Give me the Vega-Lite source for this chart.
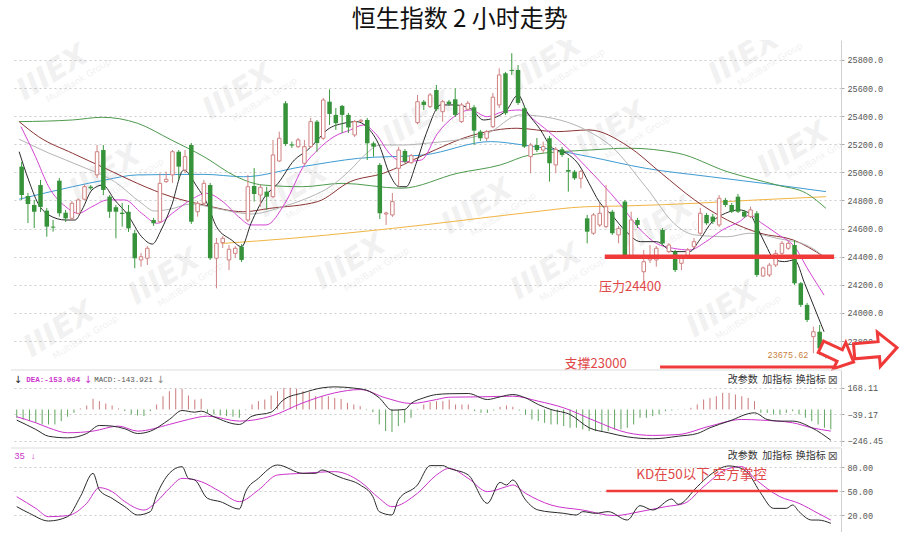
{
"$schema":"https://vega.github.io/schema/vega-lite/v6.json",
"padding":{"left":10,"top":8,"right":0,"bottom":0},
"background":"white",
"bounds":"flush",
"title":{"text":"恒生指数 2 小时走势","fontSize":24,"font":"Noto Sans CJK SC","fontWeight":"normal","color":"#111","anchor":"middle","offset":8,"dx":3},
"config":{"view":{"stroke":null},"axis":{"labelFont":"Liberation Mono","labelFontSize":8.5,"labelColor":"#555","tickColor":"#aaa","tickSize":3,"domainColor":"#d0d0d0","gridColor":"#cccccc","gridDash":[2,3],"labelPadding":3,"labelOverlap":false}},
"spacing":2,
"datasets":{
"k":[
{"i":0,"o":25041,"h":25074,"l":24804,"c":24839},{"i":1,"o":24832,"h":24853,"l":24640,"c":24775},{"i":2,"o":24768,"h":24804,"l":24604,"c":24720},{"i":3,"o":24910,"h":24946,"l":24718,"c":24754},{"i":4,"o":24728,"h":24747,"l":24542,"c":24614},{"i":5,"o":24614,"h":24661,"l":24578,"c":24607},{"i":6,"o":24941,"h":24960,"l":24685,"c":24709},{"i":7,"o":24713,"h":24733,"l":24647,"c":24673},{"i":8,"o":24673,"h":24796,"l":24661,"c":24780},{"i":9,"o":24709,"h":24815,"l":24700,"c":24804},
{"i":10,"o":24809,"h":24913,"l":24800,"c":24898},{"i":11,"o":24898,"h":24910,"l":24875,"c":24887},{"i":12,"o":24982,"h":25195,"l":24960,"c":25147},{"i":13,"o":25159,"h":25195,"l":24839,"c":24875},{"i":14,"o":24827,"h":24839,"l":24676,"c":24720},{"i":15,"o":24752,"h":24768,"l":24531,"c":24720},{"i":16,"o":24713,"h":24782,"l":24614,"c":24704},{"i":17,"o":24720,"h":24768,"l":24576,"c":24602},{"i":18,"o":24567,"h":24590,"l":24318,"c":24389},{"i":19,"o":24377,"h":24426,"l":24329,"c":24400},
{"i":20,"o":24389,"h":24476,"l":24341,"c":24460},{"i":21,"o":24661,"h":24676,"l":24619,"c":24638},{"i":22,"o":24649,"h":24994,"l":24640,"c":24922},{"i":23,"o":24934,"h":25005,"l":24925,"c":24951},{"i":24,"o":24982,"h":25159,"l":24925,"c":25147},{"i":25,"o":25147,"h":25159,"l":24946,"c":25041},{"i":26,"o":25017,"h":25159,"l":24996,"c":25112},{"i":27,"o":25195,"h":25209,"l":24633,"c":24649},{"i":28,"o":24720,"h":24796,"l":24685,"c":24780},{"i":29,"o":24780,"h":24946,"l":24768,"c":24922},
{"i":30,"o":24910,"h":24925,"l":24377,"c":24389},{"i":31,"o":24389,"h":24533,"l":24175,"c":24495},{"i":32,"o":24500,"h":24547,"l":24462,"c":24531},{"i":33,"o":24377,"h":24483,"l":24305,"c":24453},{"i":34,"o":24424,"h":24476,"l":24391,"c":24460},{"i":35,"o":24471,"h":24490,"l":24362,"c":24377},{"i":36,"o":24661,"h":24982,"l":24647,"c":24898},{"i":37,"o":24903,"h":25031,"l":24792,"c":24846},{"i":38,"o":24839,"h":24910,"l":24756,"c":24894},{"i":39,"o":24863,"h":24898,"l":24733,"c":24827},
{"i":40,"o":24827,"h":25231,"l":24818,"c":25124},{"i":41,"o":25081,"h":25290,"l":25074,"c":25243},{"i":42,"o":25492,"h":25508,"l":25188,"c":25202},{"i":43,"o":25199,"h":25219,"l":25174,"c":25191},{"i":44,"o":25183,"h":25245,"l":25174,"c":25231},{"i":45,"o":25065,"h":25231,"l":25053,"c":25183},{"i":46,"o":25183,"h":25387,"l":25174,"c":25361},{"i":47,"o":25361,"h":25373,"l":25147,"c":25209},{"i":48,"o":25243,"h":25530,"l":25231,"c":25515},{"i":49,"o":25503,"h":25591,"l":25337,"c":25416},
{"i":50,"o":25409,"h":25458,"l":25302,"c":25350},{"i":51,"o":25473,"h":25480,"l":25280,"c":25409},{"i":52,"o":25409,"h":25423,"l":25280,"c":25320},{"i":53,"o":25266,"h":25373,"l":25252,"c":25361},{"i":54,"o":25364,"h":25380,"l":25358,"c":25371},{"i":55,"o":25373,"h":25387,"l":25088,"c":25207},{"i":56,"o":25207,"h":25219,"l":25112,"c":25183},{"i":57,"o":25053,"h":25067,"l":24668,"c":24709},{"i":58,"o":24704,"h":24720,"l":24626,"c":24711},{"i":59,"o":24697,"h":24853,"l":24683,"c":24792},
{"i":60,"o":25029,"h":25183,"l":24898,"c":25159},{"i":61,"o":25152,"h":25166,"l":25067,"c":25076},{"i":62,"o":25069,"h":25131,"l":25060,"c":25119},{"i":63,"o":25354,"h":25551,"l":25344,"c":25503},{"i":64,"o":25503,"h":25515,"l":25444,"c":25480},{"i":65,"o":25468,"h":25565,"l":25458,"c":25551},{"i":66,"o":25586,"h":25622,"l":25437,"c":25449},{"i":67,"o":25432,"h":25515,"l":25361,"c":25503},{"i":68,"o":25503,"h":25515,"l":25473,"c":25487},{"i":69,"o":25520,"h":25598,"l":25394,"c":25409},
{"i":70,"o":25361,"h":25494,"l":25352,"c":25480},{"i":71,"o":25449,"h":25508,"l":25437,"c":25492},{"i":72,"o":25463,"h":25480,"l":25195,"c":25297},{"i":73,"o":25290,"h":25302,"l":25223,"c":25243},{"i":74,"o":25243,"h":25302,"l":25223,"c":25290},{"i":75,"o":25325,"h":25565,"l":25316,"c":25535},{"i":76,"o":25480,"h":25741,"l":25458,"c":25693},{"i":77,"o":25705,"h":25715,"l":25409,"c":25421},{"i":78,"o":25729,"h":25848,"l":25693,"c":25722},{"i":79,"o":25729,"h":25764,"l":25480,"c":25494},
{"i":80,"o":25456,"h":25473,"l":25174,"c":25183},{"i":81,"o":25112,"h":25209,"l":24994,"c":25195},{"i":82,"o":25195,"h":25245,"l":25145,"c":25159},{"i":83,"o":25159,"h":25219,"l":25136,"c":25183},{"i":84,"o":25243,"h":25259,"l":24934,"c":25065},{"i":85,"o":25053,"h":25181,"l":24994,"c":25164},{"i":86,"o":25164,"h":25181,"l":25110,"c":25124},{"i":87,"o":25017,"h":25102,"l":24863,"c":25005},{"i":88,"o":25005,"h":25017,"l":24946,"c":24958},{"i":89,"o":24958,"h":25017,"l":24887,"c":25005},
{"i":90,"o":24673,"h":24697,"l":24495,"c":24578},{"i":91,"o":24567,"h":24711,"l":24555,"c":24697},{"i":92,"o":24626,"h":24782,"l":24612,"c":24709},{"i":93,"o":24614,"h":24910,"l":24604,"c":24756},{"i":94,"o":24720,"h":24733,"l":24555,"c":24567},{"i":95,"o":24555,"h":24619,"l":24495,"c":24602},{"i":96,"o":24792,"h":24804,"l":24391,"c":24400},{"i":97,"o":24400,"h":24720,"l":24391,"c":24661},{"i":98,"o":24661,"h":24676,"l":24604,"c":24626},{"i":99,"o":24293,"h":24448,"l":24222,"c":24364},
{"i":100,"o":24377,"h":24483,"l":24355,"c":24389},{"i":101,"o":24377,"h":24476,"l":24329,"c":24460},{"i":102,"o":24590,"h":24604,"l":24483,"c":24495},{"i":103,"o":24436,"h":24497,"l":24426,"c":24483},{"i":104,"o":24436,"h":24448,"l":24291,"c":24305},{"i":105,"o":24353,"h":24405,"l":24305,"c":24389},{"i":106,"o":24400,"h":24462,"l":24384,"c":24448},{"i":107,"o":24471,"h":24533,"l":24462,"c":24507},{"i":108,"o":24567,"h":24747,"l":24555,"c":24709},{"i":109,"o":24697,"h":24711,"l":24626,"c":24638},
{"i":110,"o":24685,"h":24704,"l":24633,"c":24649},{"i":111,"o":24626,"h":24839,"l":24612,"c":24816},{"i":112,"o":24804,"h":24818,"l":24754,"c":24768},{"i":113,"o":24768,"h":24782,"l":24711,"c":24720},{"i":114,"o":24827,"h":24846,"l":24711,"c":24720},{"i":115,"o":24720,"h":24733,"l":24676,"c":24685},{"i":116,"o":24685,"h":24756,"l":24676,"c":24733},{"i":117,"o":24709,"h":24725,"l":24256,"c":24270},{"i":118,"o":24263,"h":24330,"l":24256,"c":24320},{"i":119,"o":24270,"h":24355,"l":24256,"c":24340},
{"i":120,"o":24341,"h":24448,"l":24327,"c":24424},{"i":121,"o":24424,"h":24512,"l":24412,"c":24495},{"i":122,"o":24460,"h":24512,"l":24448,"c":24495},{"i":123,"o":24483,"h":24519,"l":24199,"c":24211},{"i":124,"o":24211,"h":24220,"l":24042,"c":24057},{"i":125,"o":24057,"h":24071,"l":23935,"c":23950},{"i":126,"o":23831,"h":23902,"l":23713,"c":23866},{"i":127,"o":23866,"h":23914,"l":23700,"c":23748},{"i":128,"o":23748,"h":23764,"l":23676,"c":23688}
],
"wm":[
{"i":4.9,"v":25707},{"i":34.5,"v":25572},{"i":63.1,"v":25373},{"i":93.9,"v":25302},{"i":122.8,"v":25159},
{"i":13.3,"v":24996},{"i":43.1,"v":24875},{"i":72.5,"v":24754},{"i":101.3,"v":24626},
{"i":22.7,"v":24255},{"i":52.3,"v":24362},{"i":83.5,"v":24291},{"i":111.5,"v":24021},
{"i":83.5,"v":25778},{"i":115,"v":25821},{"i":6,"v":23880}
],
"ma":[
{"s":"o","i":31.8,"v":24494},{"s":"o","i":43,"v":24531},{"s":"o","i":54,"v":24578},{"s":"o","i":64,"v":24626},{"s":"o","i":75,"v":24685},{"s":"o","i":80,"v":24711},{"s":"o","i":90,"v":24756},{"s":"o","i":96,"v":24761},{"s":"o","i":108,"v":24782},{"s":"o","i":117,"v":24804},{"s":"o","i":128,"v":24827},
{"s":"u","i":-0.4,"v":24809},{"s":"u","i":8.1,"v":24898},{"s":"u","i":13.3,"v":24946},{"s":"u","i":18.4,"v":24982},{"s":"u","i":29,"v":24986},{"s":"u","i":35.3,"v":24969},{"s":"u","i":44.7,"v":25041},{"s":"u","i":53.6,"v":25100},{"s":"u","i":64,"v":25124},{"s":"u","i":74.6,"v":25219},{"s":"u","i":79.8,"v":25195},{"s":"u","i":90.3,"v":25112},{"s":"u","i":99.3,"v":25029},{"s":"u","i":109.6,"v":24969},{"s":"u","i":120.2,"v":24910},{"s":"u","i":128,"v":24863},
{"s":"n","i":-0.4,"v":25361},{"s":"n","i":8.1,"v":25373},{"s":"n","i":12.8,"v":25392},{"s":"n","i":18.4,"v":25350},{"s":"n","i":23.8,"v":25231},{"s":"n","i":29,"v":25112},{"s":"n","i":34.2,"v":24969},{"s":"n","i":38.4,"v":24910},{"s":"n","i":44.7,"v":24898},{"s":"n","i":51,"v":24922},{"s":"n","i":60.4,"v":24887},{"s":"n","i":69.4,"v":24994},{"s":"n","i":76.2,"v":25053},{"s":"n","i":80.9,"v":25124},{"s":"n","i":90.3,"v":25159},{"s":"n","i":96.6,"v":25172},{"s":"n","i":104.5,"v":25136},{"s":"n","i":112.3,"v":25005},{"s":"n","i":120.2,"v":24910},{"s":"n","i":124.9,"v":24851},{"s":"n","i":128,"v":24744},
{"s":"b","i":-0.4,"v":25361},{"s":"b","i":2.7,"v":25254},{"s":"b","i":8.1,"v":25136},{"s":"b","i":13.3,"v":25029},{"s":"b","i":18.4,"v":24922},{"s":"b","i":23.8,"v":24827},{"s":"b","i":29,"v":24768},{"s":"b","i":35.3,"v":24720},{"s":"b","i":39.5,"v":24744},{"s":"b","i":47.1,"v":24792},{"s":"b","i":52.3,"v":24934},{"s":"b","i":57.6,"v":24994},{"s":"b","i":64,"v":25124},{"s":"b","i":71.9,"v":25266},{"s":"b","i":78.8,"v":25314},{"s":"b","i":85.1,"v":25290},{"s":"b","i":90.3,"v":25302},{"s":"b","i":96.6,"v":25183},{"s":"b","i":101.8,"v":24994},{"s":"b","i":107.1,"v":24804},{"s":"b","i":112.3,"v":24661},{"s":"b","i":117.5,"v":24567},{"s":"b","i":122.8,"v":24519},{"s":"b","i":127.7,"v":24400},
{"s":"g","i":-0.4,"v":25236},{"s":"g","i":4.3,"v":25138},{"s":"g","i":9.6,"v":25041},{"s":"g","i":14.8,"v":24934},{"s":"g","i":19.1,"v":24780},{"s":"g","i":21.1,"v":24725},{"s":"g","i":23.8,"v":24740},{"s":"g","i":26.9,"v":24775},{"s":"g","i":31.3,"v":24740},{"s":"g","i":36.5,"v":24704},{"s":"g","i":41.9,"v":24761},{"s":"g","i":46,"v":24827},{"s":"g","i":49.1,"v":24898},{"s":"g","i":52.3,"v":25017},{"s":"g","i":54.9,"v":25136},{"s":"g","i":57,"v":25195},{"s":"g","i":60.7,"v":25195},{"s":"g","i":64.4,"v":25207},{"s":"g","i":74.1,"v":25278},{"s":"g","i":79.3,"v":25409},{"s":"g","i":84.5,"v":25385},{"s":"g","i":89.8,"v":25302},{"s":"g","i":93.9,"v":25183},{"s":"g","i":99.3,"v":24898},{"s":"g","i":104.4,"v":24614},{"s":"g","i":107.1,"v":24555},{"s":"g","i":112.3,"v":24542},{"s":"g","i":115.9,"v":24567},{"s":"g","i":120.2,"v":24531},{"s":"g","i":125.4,"v":24471},{"s":"g","i":127.7,"v":24400},
{"s":"m","i":-0.1,"v":25325},{"s":"m","i":2.2,"v":25112},{"s":"m","i":4.3,"v":24898},{"s":"m","i":7,"v":24756},{"s":"m","i":9,"v":24709},{"s":"m","i":11.2,"v":24756},{"s":"m","i":13.7,"v":24804},{"s":"m","i":16.4,"v":24804},{"s":"m","i":19.1,"v":24709},{"s":"m","i":21.6,"v":24638},{"s":"m","i":24.3,"v":24720},{"s":"m","i":26.9,"v":24804},{"s":"m","i":29.4,"v":24851},{"s":"m","i":32.1,"v":24789},{"s":"m","i":34.5,"v":24685},{"s":"m","i":36.5,"v":24626},{"s":"m","i":38.9,"v":24626},{"s":"m","i":41.9,"v":24780},{"s":"m","i":45,"v":25053},{"s":"m","i":47.1,"v":25159},{"s":"m","i":49.7,"v":25254},{"s":"m","i":52.3,"v":25302},{"s":"m","i":54.4,"v":25337},{"s":"m","i":56.5,"v":25266},{"s":"m","i":58.5,"v":25136},{"s":"m","i":60.7,"v":25076},{"s":"m","i":63.6,"v":25088},{"s":"m","i":66.2,"v":25278},{"s":"m","i":68.8,"v":25396},{"s":"m","i":71.4,"v":25444},{"s":"m","i":74.1,"v":25396},{"s":"m","i":76.6,"v":25432},{"s":"m","i":79.3,"v":25444},{"s":"m","i":81.9,"v":25361},{"s":"m","i":84.5,"v":25266},{"s":"m","i":87.2,"v":25159},{"s":"m","i":89.8,"v":25041},{"s":"m","i":92.3,"v":24922},{"s":"m","i":95.3,"v":24770},{"s":"m","i":98.5,"v":24590},{"s":"m","i":101,"v":24495},{"s":"m","i":103.7,"v":24460},{"s":"m","i":106.3,"v":24448},{"s":"m","i":108.9,"v":24507},{"s":"m","i":111.5,"v":24590},{"s":"m","i":114.2,"v":24649},{"s":"m","i":115.9,"v":24697},{"s":"m","i":117.8,"v":24638},{"s":"m","i":120.5,"v":24555},{"s":"m","i":123,"v":24471},{"s":"m","i":125.2,"v":24305},{"s":"m","i":127.7,"v":24127},
{"s":"k","i":-0.4,"v":25147},{"s":"k","i":1.1,"v":24946},{"s":"k","i":2.6,"v":24780},{"s":"k","i":4.3,"v":24697},{"s":"k","i":7,"v":24661},{"s":"k","i":8.5,"v":24661},{"s":"k","i":9.6,"v":24733},{"s":"k","i":11.2,"v":24875},{"s":"k","i":12.9,"v":24910},{"s":"k","i":14.8,"v":24804},{"s":"k","i":16.9,"v":24697},{"s":"k","i":19.1,"v":24542},{"s":"k","i":20.8,"v":24490},{"s":"k","i":22.2,"v":24590},{"s":"k","i":23.8,"v":24756},{"s":"k","i":25.8,"v":25017},{"s":"k","i":27.9,"v":24898},{"s":"k","i":29.5,"v":24780},{"s":"k","i":31,"v":24614},{"s":"k","i":33.4,"v":24519},{"s":"k","i":35,"v":24471},{"s":"k","i":36.5,"v":24638},{"s":"k","i":38.7,"v":24827},{"s":"k","i":40.8,"v":24922},{"s":"k","i":43.4,"v":25088},{"s":"k","i":45.5,"v":25159},{"s":"k","i":47.1,"v":25231},{"s":"k","i":48.6,"v":25302},{"s":"k","i":51.3,"v":25350},{"s":"k","i":53.3,"v":25361},{"s":"k","i":54.9,"v":25325},{"s":"k","i":57,"v":25183},{"s":"k","i":58.5,"v":24994},{"s":"k","i":60.1,"v":24898},{"s":"k","i":61.2,"v":24898},{"s":"k","i":62.8,"v":25065},{"s":"k","i":64.4,"v":25278},{"s":"k","i":66.7,"v":25480},{"s":"k","i":68.8,"v":25480},{"s":"k","i":71.4,"v":25456},{"s":"k","i":73.5,"v":25373},{"s":"k","i":75,"v":25385},{"s":"k","i":77.2,"v":25444},{"s":"k","i":79,"v":25551},{"s":"k","i":80.4,"v":25432},{"s":"k","i":82.4,"v":25314},{"s":"k","i":84.5,"v":25172},{"s":"k","i":86.7,"v":25136},{"s":"k","i":88.7,"v":25053},{"s":"k","i":90.3,"v":24922},{"s":"k","i":91.9,"v":24792},{"s":"k","i":93.9,"v":24697},{"s":"k","i":96.1,"v":24583},{"s":"k","i":98.5,"v":24507},{"s":"k","i":101,"v":24507},{"s":"k","i":103.7,"v":24436},{"s":"k","i":106.3,"v":24436},{"s":"k","i":107.9,"v":24519},{"s":"k","i":109.9,"v":24649},{"s":"k","i":112,"v":24709},{"s":"k","i":114.2,"v":24733},{"s":"k","i":115.8,"v":24709},{"s":"k","i":117,"v":24614},{"s":"k","i":118.3,"v":24495},{"s":"k","i":119.9,"v":24377},{"s":"k","i":121.4,"v":24365},{"s":"k","i":123,"v":24377},{"s":"k","i":124.6,"v":24211},{"s":"k","i":126.1,"v":24044},{"s":"k","i":127.7,"v":23866}
],
"mh":[
{"i":0,"v":-65},{"i":1,"v":-78},{"i":2,"v":-91},{"i":3,"v":-104},{"i":4,"v":-117},{"i":5,"v":-117},{"i":6,"v":-117},{"i":7,"v":-91},{"i":8,"v":-57},{"i":9,"v":-26},{"i":10,"v":8},{"i":11,"v":31},{"i":12,"v":83},{"i":13,"v":65},{"i":14,"v":47},{"i":15,"v":31},{"i":16,"v":8},{"i":17,"v":-13},{"i":18,"v":-39},{"i":19,"v":-47},{"i":20,"v":-52},{"i":21,"v":-13},{"i":22,"v":39},{"i":23,"v":104},{"i":24,"v":143},{"i":25,"v":162},{"i":26,"v":162},{"i":27,"v":109},{"i":28,"v":78},{"i":29,"v":83},{"i":30,"v":-26},{"i":31,"v":-39},{"i":32,"v":-47},{"i":33,"v":-52},{"i":34,"v":-57},{"i":35,"v":-65},{"i":36,"v":-5},{"i":37,"v":39},{"i":38,"v":65},{"i":39,"v":78},{"i":40,"v":109},{"i":41,"v":143},{"i":42,"v":169},{"i":43,"v":169},{"i":44,"v":162},{"i":45,"v":143},{"i":46,"v":136},{"i":47,"v":104},{"i":48,"v":104},{"i":49,"v":104},{"i":50,"v":91},{"i":51,"v":83},{"i":52,"v":52},{"i":53,"v":39},{"i":54,"v":26},{"i":55,"v":-5},{"i":56,"v":-21},{"i":57,"v":-117},{"i":58,"v":-169},{"i":59,"v":-177},{"i":60,"v":-130},{"i":61,"v":-104},{"i":62,"v":-65},{"i":63,"v":5},{"i":64,"v":39},{"i":65,"v":57},{"i":66,"v":65},{"i":67,"v":65},{"i":68,"v":78},{"i":69,"v":39},{"i":70,"v":39},{"i":71,"v":39},{"i":72,"v":-13},{"i":73,"v":-26},{"i":74,"v":-26},{"i":75,"v":-8},{"i":76,"v":21},{"i":77,"v":31},{"i":78,"v":21},{"i":79,"v":-8},{"i":80,"v":-39},{"i":81,"v":-78},{"i":82,"v":-91},{"i":83,"v":-104},{"i":84,"v":-117},{"i":85,"v":-117},{"i":86,"v":-130},{"i":87,"v":-143},{"i":88,"v":-143},{"i":89,"v":-156},{"i":90,"v":-169},{"i":91,"v":-169},{"i":92,"v":-169},{"i":93,"v":-169},{"i":94,"v":-156},{"i":95,"v":-156},{"i":96,"v":-143},{"i":97,"v":-117},{"i":98,"v":-65},{"i":99,"v":-65},{"i":100,"v":-52},{"i":101,"v":-39},{"i":102,"v":-13},{"i":103,"v":-8},{"i":104,"v":-3},{"i":105,"v":3},{"i":106,"v":13},{"i":107,"v":39},{"i":108,"v":78},{"i":109,"v":91},{"i":110,"v":104},{"i":111,"v":130},{"i":112,"v":130},{"i":113,"v":117},{"i":114,"v":104},{"i":115,"v":91},{"i":116,"v":65},{"i":117,"v":-26},{"i":118,"v":-26},{"i":119,"v":-39},{"i":120,"v":-39},{"i":121,"v":-26},{"i":122,"v":-13},{"i":123,"v":-39},{"i":124,"v":-65},{"i":125,"v":-91},{"i":126,"v":-117},{"i":127,"v":-143},{"i":128,"v":-156}
],
"ml":[
{"s":"dif","i":0,"v":-83},{"s":"dif","i":3,"v":-156},{"s":"dif","i":5,"v":-209},{"s":"dif","i":8,"v":-222},{"s":"dif","i":11,"v":-188},{"s":"dif","i":13,"v":-125},{"s":"dif","i":15,"v":-130},{"s":"dif","i":17,"v":-151},{"s":"dif","i":19,"v":-188},{"s":"dif","i":21,"v":-170},{"s":"dif","i":24,"v":-78},{"s":"dif","i":26,"v":-8},{"s":"dif","i":28,"v":-21},{"s":"dif","i":29,"v":-13},{"s":"dif","i":31,"v":-57},{"s":"dif","i":35,"v":-117},{"s":"dif","i":37,"v":-52},{"s":"dif","i":40,"v":-21},{"s":"dif","i":42,"v":78},{"s":"dif","i":45,"v":130},{"s":"dif","i":48,"v":169},{"s":"dif","i":50,"v":177},{"s":"dif","i":53,"v":167},{"s":"dif","i":55,"v":151},{"s":"dif","i":57,"v":91},{"s":"dif","i":59,"v":-5},{"s":"dif","i":61,"v":0},{"s":"dif","i":62,"v":47},{"s":"dif","i":64,"v":91},{"s":"dif","i":66,"v":117},{"s":"dif","i":68,"v":123},{"s":"dif","i":71,"v":125},{"s":"dif","i":74,"v":78},{"s":"dif","i":76,"v":99},{"s":"dif","i":78,"v":117},{"s":"dif","i":80,"v":91},{"s":"dif","i":82,"v":39},{"s":"dif","i":84,"v":0},{"s":"dif","i":87,"v":-39},{"s":"dif","i":90,"v":-143},{"s":"dif","i":93,"v":-182},{"s":"dif","i":96,"v":-214},{"s":"dif","i":100,"v":-229},{"s":"dif","i":104,"v":-209},{"s":"dif","i":107,"v":-188},{"s":"dif","i":109,"v":-143},{"s":"dif","i":112,"v":-91},{"s":"dif","i":116,"v":-26},{"s":"dif","i":118,"v":-78},{"s":"dif","i":120,"v":-91},{"s":"dif","i":122,"v":-91},{"s":"dif","i":125,"v":-143},{"s":"dif","i":128,"v":-240},
{"s":"dea","i":0,"v":-57},{"s":"dea","i":3,"v":-104},{"s":"dea","i":5,"v":-143},{"s":"dea","i":8,"v":-182},{"s":"dea","i":12,"v":-169},{"s":"dea","i":16,"v":-130},{"s":"dea","i":19,"v":-169},{"s":"dea","i":24,"v":-117},{"s":"dea","i":27,"v":-78},{"s":"dea","i":30,"v":-52},{"s":"dea","i":35,"v":-91},{"s":"dea","i":40,"v":-52},{"s":"dea","i":45,"v":52},{"s":"dea","i":50,"v":130},{"s":"dea","i":54,"v":156},{"s":"dea","i":58,"v":91},{"s":"dea","i":62,"v":47},{"s":"dea","i":66,"v":78},{"s":"dea","i":68,"v":96},{"s":"dea","i":73,"v":99},{"s":"dea","i":78,"v":104},{"s":"dea","i":82,"v":65},{"s":"dea","i":86,"v":13},{"s":"dea","i":91,"v":-91},{"s":"dea","i":96,"v":-182},{"s":"dea","i":100,"v":-203},{"s":"dea","i":104,"v":-196},{"s":"dea","i":109,"v":-130},{"s":"dea","i":114,"v":-78},{"s":"dea","i":117,"v":-83},{"s":"dea","i":122,"v":-104},{"s":"dea","i":125,"v":-143},{"s":"dea","i":128,"v":-169}
],
"kd":[
{"s":"k","i":0,"v":30.4},{"s":"k","i":2,"v":22.1},{"s":"k","i":5,"v":12.5},{"s":"k","i":8,"v":17.9},{"s":"k","i":10,"v":42.9},{"s":"k","i":12,"v":72.1},{"s":"k","i":13,"v":51.2},{"s":"k","i":15,"v":40.8},{"s":"k","i":17,"v":30.4},{"s":"k","i":19,"v":20},{"s":"k","i":21,"v":24.2},{"s":"k","i":22,"v":45},{"s":"k","i":24,"v":72.1},{"s":"k","i":26,"v":80.4},{"s":"k","i":27,"v":65.8},{"s":"k","i":28,"v":63.8},{"s":"k","i":30,"v":40.8},{"s":"k","i":32,"v":36.7},{"s":"k","i":35,"v":27.5},{"s":"k","i":36,"v":49.2},{"s":"k","i":38,"v":65.8},{"s":"k","i":41,"v":82.5},{"s":"k","i":45,"v":72.1},{"s":"k","i":47,"v":72.1},{"s":"k","i":48,"v":76.3},{"s":"k","i":50,"v":70},{"s":"k","i":51,"v":66.7},{"s":"k","i":54,"v":57.5},{"s":"k","i":56,"v":42.9},{"s":"k","i":57,"v":24.2},{"s":"k","i":59,"v":20},{"s":"k","i":60,"v":38.8},{"s":"k","i":63,"v":57.5},{"s":"k","i":65,"v":81.7},{"s":"k","i":67,"v":81.7},{"s":"k","i":68,"v":78.3},{"s":"k","i":71,"v":70},{"s":"k","i":74,"v":34.6},{"s":"k","i":76,"v":60.8},{"s":"k","i":77,"v":57.5},{"s":"k","i":78,"v":63.8},{"s":"k","i":80,"v":38.8},{"s":"k","i":82,"v":26.2},{"s":"k","i":86,"v":22.1},{"s":"k","i":88,"v":20},{"s":"k","i":89,"v":24.2},{"s":"k","i":91,"v":22.1},{"s":"k","i":93,"v":24.2},{"s":"k","i":96,"v":13.7},{"s":"k","i":98,"v":31.7},{"s":"k","i":100,"v":26.2},{"s":"k","i":103,"v":40},{"s":"k","i":104,"v":33.3},{"s":"k","i":107,"v":55.4},{"s":"k","i":109,"v":70},{"s":"k","i":112,"v":81.3},{"s":"k","i":113,"v":80.4},{"s":"k","i":115,"v":72.1},{"s":"k","i":117,"v":47.1},{"s":"k","i":119,"v":28.3},{"s":"k","i":121,"v":28.3},{"s":"k","i":122,"v":32.5},{"s":"k","i":123,"v":24.2},{"s":"k","i":125,"v":13.7},{"s":"k","i":126,"v":13.7},{"s":"k","i":128,"v":9.6},
{"s":"d","i":0,"v":42.9},{"s":"d","i":3,"v":28.3},{"s":"d","i":5,"v":17.9},{"s":"d","i":8,"v":19.2},{"s":"d","i":11,"v":34.6},{"s":"d","i":13,"v":54.2},{"s":"d","i":15,"v":49.2},{"s":"d","i":17,"v":36.7},{"s":"d","i":20,"v":26.2},{"s":"d","i":22,"v":36.7},{"s":"d","i":24,"v":53.3},{"s":"d","i":26,"v":65.8},{"s":"d","i":29,"v":61.7},{"s":"d","i":32,"v":49.2},{"s":"d","i":35,"v":36.7},{"s":"d","i":38,"v":51.2},{"s":"d","i":41,"v":70},{"s":"d","i":45,"v":72.1},{"s":"d","i":50,"v":74.2},{"s":"d","i":54,"v":61.7},{"s":"d","i":57,"v":40.8},{"s":"d","i":59,"v":30.4},{"s":"d","i":63,"v":47.1},{"s":"d","i":66,"v":70},{"s":"d","i":68,"v":78.3},{"s":"d","i":71,"v":65.8},{"s":"d","i":74,"v":49.2},{"s":"d","i":77,"v":55.4},{"s":"d","i":78,"v":57.5},{"s":"d","i":80,"v":47.1},{"s":"d","i":84,"v":32.5},{"s":"d","i":89,"v":26.2},{"s":"d","i":94,"v":19.2},{"s":"d","i":98,"v":24.2},{"s":"d","i":102,"v":30.4},{"s":"d","i":105,"v":34.6},{"s":"d","i":108,"v":55.4},{"s":"d","i":112,"v":78.3},{"s":"d","i":114,"v":80.4},{"s":"d","i":116,"v":65.8},{"s":"d","i":120,"v":42.9},{"s":"d","i":123,"v":34.6},{"s":"d","i":126,"v":22.1},{"s":"d","i":128,"v":13.7}
]
},
"vconcat":[
{
"width":830,"height":328,
"encoding":{"x":{"field":"i","type":"quantitative","scale":{"domain":[-0.9,129.6],"nice":false,"zero":false},"axis":null}},
"layer":[
{"data":{"name":"wm"},"mark":{"type":"text","text":"IIIEX","font":"DejaVu Sans","fontWeight":"bold","fontStyle":"italic","fontSize":30,"angle":-32,"color":"#000","opacity":0.05,"align":"center","baseline":"middle","clip":true},
 "encoding":{"y":{"field":"v","type":"quantitative","title":null,"scale":{"domain":[23608,25942],"nice":false,"zero":false},"axis":{"orient":"right","values":[23800,24000,24200,24400,24600,24800,25000,25200,25400,25600,25800],"format":".1f","grid":true,"title":null,"labelOverlap":false}}}},
{"data":{"name":"wm"},"mark":{"type":"text","text":"MultiBank Group","font":"DejaVu Sans","fontSize":9,"angle":-32,"color":"#000","opacity":0.06,"align":"center","baseline":"middle","dx":18,"dy":20,"clip":true},
 "encoding":{"y":{"field":"v","type":"quantitative","title":null,"axis":{"orient":"right","values":[23800,24000,24200,24400,24600,24800,25000,25200,25400,25600,25800],"format":".1f","grid":true,"title":null,"labelOverlap":false}}}},
{"data":{"name":"ma"},"mark":{"type":"line","strokeWidth":1,"interpolate":"monotone"},
 "encoding":{"y":{"field":"v","type":"quantitative","title":null,"axis":{"orient":"right","values":[23800,24000,24200,24400,24600,24800,25000,25200,25400,25600,25800],"format":".1f","grid":true,"title":null,"labelOverlap":false}},
  "color":{"field":"s","type":"nominal","legend":null,"scale":{"domain":["o","u","n","b","g","m","k"],"range":["#f2b544","#3d9bd2","#4d9a4d","#8c3434","#b4b4b4","#d445d4","#2a2a2a"]}}}},
{"data":{"name":"k"},"transform":[{"filter":"datum.c < datum.o"}],"mark":{"type":"rule","color":"#3a9a3e","strokeWidth":1},
 "encoding":{"y":{"field":"l","type":"quantitative","title":null,"axis":{"orient":"right","values":[23800,24000,24200,24400,24600,24800,25000,25200,25400,25600,25800],"format":".1f","grid":true,"title":null,"labelOverlap":false}},"y2":{"field":"h"}}},
{"data":{"name":"k"},"transform":[{"filter":"datum.c >= datum.o"}],"mark":{"type":"rule","color":"#d08484","strokeWidth":1},
 "encoding":{"y":{"field":"l","type":"quantitative","title":null,"axis":{"orient":"right","values":[23800,24000,24200,24400,24600,24800,25000,25200,25400,25600,25800],"format":".1f","grid":true,"title":null,"labelOverlap":false}},"y2":{"field":"h"}}},
{"data":{"name":"k"},"transform":[{"filter":"datum.c < datum.o"}],"mark":{"type":"bar","color":"#36933a","size":4.5},
 "encoding":{"y":{"field":"o","type":"quantitative","title":null,"axis":{"orient":"right","values":[23800,24000,24200,24400,24600,24800,25000,25200,25400,25600,25800],"format":".1f","grid":true,"title":null,"labelOverlap":false}},"y2":{"field":"c"}}},
{"data":{"name":"k"},"transform":[{"filter":"datum.c >= datum.o"}],"mark":{"type":"bar","fill":"white","stroke":"#d08080","strokeWidth":1,"size":3.5},
 "encoding":{"y":{"field":"o","type":"quantitative","title":null,"axis":{"orient":"right","values":[23800,24000,24200,24400,24600,24800,25000,25200,25400,25600,25800],"format":".1f","grid":true,"title":null,"labelOverlap":false}},"y2":{"field":"c"}}},
{"data":{"values":[{"a":92.8,"b":129.3,"v":24400}]},"mark":{"type":"rule","color":"#f03a3a","strokeWidth":4.5},
 "encoding":{"x":{"field":"a","type":"quantitative"},"x2":{"field":"b"},"y":{"field":"v","type":"quantitative","title":null,"axis":{"orient":"right","values":[23800,24000,24200,24400,24600,24800,25000,25200,25400,25600,25800],"format":".1f","grid":true,"title":null,"labelOverlap":false}}}},
{"data":{"values":[{"a":101.6,"b":129.3,"v":23615}]},"mark":{"type":"rule","color":"#f03a3a","strokeWidth":3},
 "encoding":{"x":{"field":"a","type":"quantitative"},"x2":{"field":"b"},"y":{"field":"v","type":"quantitative","title":null,"axis":{"orient":"right","values":[23800,24000,24200,24400,24600,24800,25000,25200,25400,25600,25800],"format":".1f","grid":true,"title":null,"labelOverlap":false}}}},
{"data":{"values":[{"i":91.9,"v":24184,"t":"压力24400"},{"i":86.4,"v":23636,"t":"支撑23000"}]},"mark":{"type":"text","align":"left","baseline":"middle","font":"Noto Sans CJK SC","fontSize":13,"color":"#e04848"},
 "encoding":{"y":{"field":"v","type":"quantitative","title":null,"axis":{"orient":"right","values":[23800,24000,24200,24400,24600,24800,25000,25200,25400,25600,25800],"format":".1f","grid":true,"title":null,"labelOverlap":false}},"text":{"field":"t"}}},
{"data":{"values":[{"i":125.2,"v":23700,"t":"23675.62"}]},"mark":{"type":"text","align":"right","baseline":"middle","font":"Liberation Mono","fontSize":8.5,"color":"#c8823c"},
 "encoding":{"y":{"field":"v","type":"quantitative","title":null,"axis":{"orient":"right","values":[23800,24000,24200,24400,24600,24800,25000,25200,25400,25600,25800],"format":".1f","grid":true,"title":null,"labelOverlap":false}},"text":{"field":"t"}}},
{"data":{"values":[{"i":129.8,"v":23705}]},"mark":{"type":"point","shape":"M-1,-0.35L0.15,-0.35L0.15,-0.8L1,0L0.15,0.8L0.15,0.35L-1,0.35Z","filled":true,"fill":"white","stroke":"#f03a3a","strokeWidth":3,"size":1300,"angle":25,"opacity":1},
 "encoding":{"y":{"field":"v","type":"quantitative","title":null,"axis":{"orient":"right","values":[23800,24000,24200,24400,24600,24800,25000,25200,25400,25600,25800],"format":".1f","grid":true,"title":null,"labelOverlap":false}}}},
{"data":{"values":[{"i":135.9,"v":23740}]},"mark":{"type":"point","shape":"M-1,-0.35L0.15,-0.35L0.15,-0.8L1,0L0.15,0.8L0.15,0.35L-1,0.35Z","filled":true,"fill":"white","stroke":"#f03a3a","strokeWidth":3,"size":1850,"angle":-5,"opacity":1},
 "encoding":{"y":{"field":"v","type":"quantitative","title":null,"axis":{"orient":"right","values":[23800,24000,24200,24400,24600,24800,25000,25200,25400,25600,25800],"format":".1f","grid":true,"title":null,"labelOverlap":false}}}}
]
},
{
"width":830,"height":76,
"encoding":{"x":{"field":"i","type":"quantitative","scale":{"domain":[-0.9,129.6],"nice":false,"zero":false},"axis":null},
 "y":{"field":"v","type":"quantitative","title":null,"scale":{"domain":[-285.6,308.9],"nice":false,"zero":false},"axis":{"orient":"right","values":[168.11,-39.17,-246.45],"format":".2f","grid":true,"title":null,"labelOverlap":false}}},
"layer":[
{"data":{"values":[{"a":-0.9,"b":129.6,"v":308.9}]},"mark":{"type":"rule","color":"#dddddd","strokeWidth":1},
 "encoding":{"x":{"field":"a","type":"quantitative"},"x2":{"field":"b"}}},
{"data":{"name":"mh"},"mark":{"type":"rule","strokeWidth":1},
 "encoding":{"y2":{"datum":0},"color":{"condition":{"test":"datum.v > 0","value":"#cc7a7a"},"value":"#5fa55f"}}},
{"data":{"name":"ml"},"transform":[{"filter":"datum.s == 'dea'"}],"mark":{"type":"line","strokeWidth":1,"interpolate":"monotone","color":"#cc33cc"}},
{"data":{"name":"ml"},"transform":[{"filter":"datum.s == 'dif'"}],"mark":{"type":"line","strokeWidth":1,"interpolate":"monotone","color":"#2a2a2a"}},
{"data":{"values":[{"i":111.8,"v":230.7,"t":"改参数"},{"i":117.2,"v":230.7,"t":"加指标"},{"i":122.5,"v":230.7,"t":"换指标"}]},"mark":{"type":"text","align":"left","baseline":"middle","font":"Noto Sans CJK SC","fontSize":10,"color":"#333"},
 "encoding":{"text":{"field":"t"}}},
{"data":{"values":[{"i":128.3,"v":230.7,"t":"⊠"}]},"mark":{"type":"text","align":"center","baseline":"middle","font":"DejaVu Sans","fontSize":12,"color":"#666"},
 "encoding":{"text":{"field":"t"}}},
{"data":{"values":[{"i":1.5,"v":230.7,"t":"DEA:-153.064"}]},"mark":{"type":"text","align":"left","baseline":"middle","font":"Liberation Mono","fontSize":7.5,"fontWeight":"bold","color":"#cc33cc"},
 "encoding":{"text":{"field":"t"}}},
{"data":{"values":[{"i":12.2,"v":230.7,"t":"MACD:-143.921"}]},"mark":{"type":"text","align":"left","baseline":"middle","font":"Liberation Mono","fontSize":7.5,"color":"#555"},
 "encoding":{"text":{"field":"t"}}},
{"data":{"values":[{"i":0.2,"v":230.7,"t":"↓"}]},"mark":{"type":"text","align":"center","baseline":"middle","font":"DejaVu Sans","fontSize":10,"color":"#222"},
 "encoding":{"text":{"field":"t"}}},
{"data":{"values":[{"i":11.2,"v":230.7,"t":"↓"}]},"mark":{"type":"text","align":"center","baseline":"middle","font":"DejaVu Sans","fontSize":10,"color":"#cc33cc"},
 "encoding":{"text":{"field":"t"}}},
{"data":{"values":[{"i":22.6,"v":230.7,"t":"↓"}]},"mark":{"type":"text","align":"center","baseline":"middle","font":"DejaVu Sans","fontSize":10,"color":"#888"},
 "encoding":{"text":{"field":"t"}}}
]
},
{
"width":830,"height":84,
"encoding":{"x":{"field":"i","type":"quantitative","scale":{"domain":[-0.9,129.6],"nice":false,"zero":false},"axis":null},
 "y":{"field":"v","type":"quantitative","title":null,"scale":{"domain":[-1.25,103.75],"nice":false,"zero":false},"axis":{"orient":"right","values":[80,50,20],"format":".2f","grid":true,"title":null,"labelOverlap":false}}},
"layer":[
{"data":{"values":[{"a":-0.9,"b":129.6,"v":103.75}]},"mark":{"type":"rule","color":"#dddddd","strokeWidth":1},
 "encoding":{"x":{"field":"a","type":"quantitative"},"x2":{"field":"b"}}},
{"data":{"name":"kd"},"transform":[{"filter":"datum.s == 'd'"}],"mark":{"type":"line","strokeWidth":1,"interpolate":"monotone","color":"#cc33cc"}},
{"data":{"name":"kd"},"transform":[{"filter":"datum.s == 'k'"}],"mark":{"type":"line","strokeWidth":1,"interpolate":"monotone","color":"#2a2a2a"}},
{"data":{"values":[{"a":92.7,"b":129.1,"v":50}]},"mark":{"type":"rule","color":"#f03a3a","strokeWidth":2.5},
 "encoding":{"x":{"field":"a","type":"quantitative"},"x2":{"field":"b"}}},
{"data":{"values":[{"i":97.4,"v":70,"t":"KD在50以下 空方掌控"}]},"mark":{"type":"text","align":"left","baseline":"middle","font":"Noto Sans CJK SC","fontSize":13.5,"color":"#e04848"},
 "encoding":{"text":{"field":"t"}}},
{"data":{"values":[{"i":111.8,"v":93.75,"t":"改参数"},{"i":117.2,"v":93.75,"t":"加指标"},{"i":122.5,"v":93.75,"t":"换指标"}]},"mark":{"type":"text","align":"left","baseline":"middle","font":"Noto Sans CJK SC","fontSize":10,"color":"#333"},
 "encoding":{"text":{"field":"t"}}},
{"data":{"values":[{"i":128.3,"v":93.75,"t":"⊠"}]},"mark":{"type":"text","align":"center","baseline":"middle","font":"DejaVu Sans","fontSize":12,"color":"#666"},
 "encoding":{"text":{"field":"t"}}},
{"data":{"values":[{"i":-0.4,"v":93.75,"t":"35 ↓"}]},"mark":{"type":"text","align":"left","baseline":"middle","font":"Liberation Mono","fontSize":9,"color":"#cc33cc"},
 "encoding":{"text":{"field":"t"}}}
]
}
]
}
